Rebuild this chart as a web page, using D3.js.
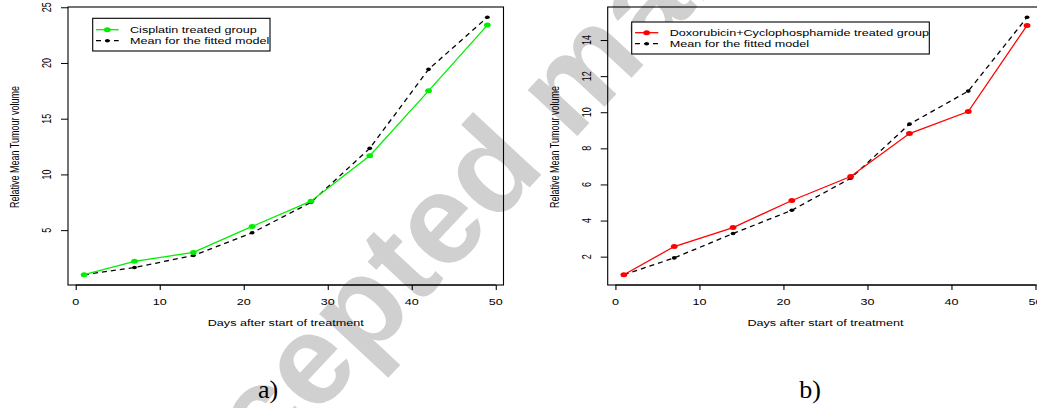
<!DOCTYPE html>
<html><head><meta charset="utf-8">
<script src="https://cdn.jsdelivr.net/npm/d3@7"></script>
<style>
html,body{margin:0;padding:0;background:#fff;}
svg{display:block;}
text{font-family:"Liberation Sans",Arial,sans-serif;fill:#000;}
</style></head>
<body><svg id="c" width="1037" height="408"></svg>
<script>
// ---- data ----
const days = [1, 7, 14, 21, 28, 35, 42, 49];
const cisplatinObserved = [1.0, 2.2, 3.0, 5.33, 7.6, 11.68, 17.5, 23.4];
const cisplatinFitted   = [1.0, 1.65, 2.72, 4.76, 7.49, 12.34, 19.43, 24.1];
const doxoObserved = [1.0, 2.56, 3.61, 5.11, 6.44, 8.82, 10.04, 14.81];
const doxoFitted   = [1.0, 1.93, 3.28, 4.57, 6.34, 9.34, 11.17, 15.26];
const xTicks = [0, 10, 20, 30, 40, 50];
const yTicksA = [5, 10, 15, 20, 25];
const yTicksB = [2, 4, 6, 8, 10, 12, 14];
const xTitle = "Days after start of treatment";
const yTitle = "Relative Mean Tumour volume";
const legendObsA = "Cisplatin treated group";
const legendObsB = "Doxorubicin+Cyclophosphamide treated group";
const legendFit = "Mean for the fitted model";
const panelLabels = ["a)", "b)"];
const watermark = "Accepted manuscript";

const svg = d3.select("#c");
const SX = 1.4, FS = 9;

// watermark beneath
svg.append("text")
  .attr("transform", "translate(154,590) rotate(-47)")
  .attr("font-size", 128).attr("font-weight", "bold")
  .style("fill", "#d0d0d0")
  .text(watermark);

// R-like default axis extension (4%)
function rDomain(vals){
  const [a,b] = d3.extent(vals); const e = (b-a)*0.04; return [a-e, b+e];
}

function htext(g, x, y, str, anchor){
  g.append("g").attr("transform", `translate(${x},${y}) scale(${SX},1)`)
   .append("text").attr("font-size", FS).attr("text-anchor", anchor||"middle").text(str);
}

function panel(cfg){
  const g = svg.append("g");
  const x = d3.scaleLinear().domain(rDomain(days)).range([cfg.left, cfg.left + 435.5]);
  const y = d3.scaleLinear().domain(rDomain(cfg.obs.concat(cfg.fit))).range([285, 7]);

  // box
  g.append("rect").attr("x", cfg.left).attr("y", 7).attr("width", 435.5).attr("height", 278)
    .attr("fill", "none").attr("stroke", "#000").attr("stroke-width", 1.1);

  // x axis
  const xa = g.append("g").attr("transform", "translate(0,285)")
    .call(d3.axisBottom(x).tickValues(xTicks).tickSize(5).tickSizeOuter(0).tickFormat(""));
  xa.select(".domain").attr("d", `M${x(xTicks[0])},0H${x(xTicks[xTicks.length-1])}`).attr("stroke-width", 1.1);
  xa.selectAll(".tick line").attr("stroke-width", 1.1);
  xTicks.forEach(t => htext(g, x(t), 305, String(t)));
  htext(g, (cfg.left + cfg.left + 435.5)/2, 326, xTitle);

  // y axis
  const ya = g.append("g").attr("transform", `translate(${cfg.left},0)`)
    .call(d3.axisLeft(y).tickValues(cfg.yTicks).tickSize(7).tickSizeOuter(0).tickFormat(""));
  ya.select(".domain").remove();
  ya.selectAll(".tick line").attr("stroke-width", 1);
  cfg.yTicks.forEach(t => {
    g.append("g").attr("transform", `translate(${cfg.left - 21},${y(t)}) scale(${SX},1) rotate(-90)`)
     .append("text").attr("font-size", FS).attr("text-anchor", "middle").attr("dy", "0.35em").text(String(t));
  });
  g.append("g").attr("transform", `translate(${cfg.left - 53},147) scale(${SX},1) rotate(-90)`)
   .append("text").attr("font-size", FS).attr("text-anchor", "middle").attr("dy", "0.35em").text(yTitle);

  // lines
  const line = d3.line().x((d,i) => x(days[i])).y(d => y(d));
  g.append("path").datum(cfg.fit).attr("d", line).attr("fill", "none")
    .attr("stroke", "#000").attr("stroke-width", 1.3).attr("stroke-dasharray", "5,4");
  g.append("path").datum(cfg.obs).attr("d", line).attr("fill", "none")
    .attr("stroke", cfg.color).attr("stroke-width", 1.3);
  g.selectAll(".pf").data(cfg.fit).join("ellipse")
    .attr("cx", (d,i) => x(days[i])).attr("cy", d => y(d)).attr("rx", 2.4).attr("ry", 1.8).attr("fill", "#000");
  g.selectAll(".po").data(cfg.obs).join("ellipse")
    .attr("cx", (d,i) => x(days[i])).attr("cy", d => y(d)).attr("rx", 3.4).attr("ry", 2.5).attr("fill", cfg.color);

  // legend
  const L = cfg.legend;
  g.append("rect").attr("x", L.x0).attr("y", L.y0).attr("width", L.x1 - L.x0).attr("height", L.y1 - L.y0)
    .attr("fill", "#fff").attr("stroke", "#000").attr("stroke-width", 1.1);
  const mid = (L.s0 + L.s1)/2;
  g.append("line").attr("x1", L.s0).attr("x2", L.s1).attr("y1", L.r1).attr("y2", L.r1)
    .attr("stroke", cfg.color).attr("stroke-width", 1.3);
  g.append("ellipse").attr("cx", mid).attr("cy", L.r1).attr("rx", 3.4).attr("ry", 2.5).attr("fill", cfg.color);
  g.append("line").attr("x1", L.s0).attr("x2", L.s1).attr("y1", L.r2).attr("y2", L.r2)
    .attr("stroke", "#000").attr("stroke-width", 1.3).attr("stroke-dasharray", "5,4");
  g.append("ellipse").attr("cx", mid).attr("cy", L.r2).attr("rx", 2.4).attr("ry", 1.8).attr("fill", "#000");
  htext(g, L.tx, L.r1 + 3.2, cfg.legendText, "start");
  htext(g, L.tx, L.r2 + 3.2, legendFit, "start");

  // panel label
  g.append("text").attr("x", cfg.labelX).attr("y", 398).attr("font-size", 26)
    .attr("text-anchor", "middle").style("font-family", "'Liberation Serif','Times New Roman',serif")
    .text(cfg.label);
}

panel({left: 68, obs: cisplatinObserved, fit: cisplatinFitted, color: "#00ee00", yTicks: yTicksA,
  legendText: legendObsA, label: panelLabels[0], labelX: 268,
  legend: {x0: 92.7, y0: 18.3, x1: 270, y1: 51, s0: 96, s1: 118.7, r1: 29.7, r2: 40.7, tx: 130}});
panel({left: 607.7, obs: doxoObserved, fit: doxoFitted, color: "#ff0000", yTicks: yTicksB,
  legendText: legendObsB, label: panelLabels[1], labelX: 810,
  legend: {x0: 631.7, y0: 22, x1: 929.3, y1: 54, s0: 635, s1: 658.3, r1: 32.7, r2: 43.7, tx: 669.7}});
</script></body></html>
